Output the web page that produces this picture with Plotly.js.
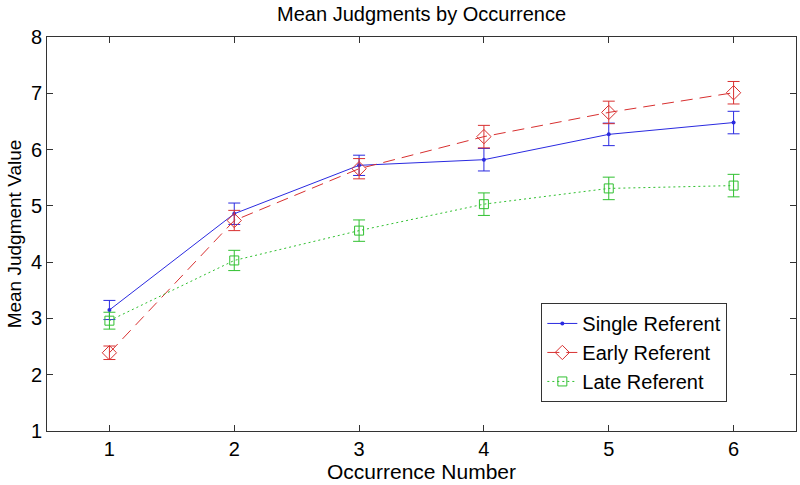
<!DOCTYPE html>
<html>
<head>
<meta charset="utf-8">
<script src="https://cdn.plot.ly/plotly-3.0.1.min.js"></script>
<style>html,body{margin:0;padding:0;background:#fff;}#chart{width:800px;height:485px;}</style>
</head>
<body>
<div id="chart"></div>
<script>
const occurrences = [1, 2, 3, 4, 5, 6];
const singleMeans = [3.15, 4.86, 5.72, 5.82, 6.27, 6.48];
const singleErr   = [0.17, 0.19, 0.18, 0.20, 0.20, 0.20];
const earlyMeans  = [2.39, 4.74, 5.66, 6.23, 6.66, 7.01];
const earlyErr    = [0.12, 0.18, 0.18, 0.20, 0.20, 0.20];
const lateMeans   = [2.96, 4.03, 4.56, 5.03, 5.31, 5.36];
const lateErr     = [0.15, 0.18, 0.19, 0.20, 0.20, 0.20];
const seriesNames = ['Single Referent', 'Early Referent', 'Late Referent'];
const yTicks = [1, 2, 3, 4, 5, 6, 7, 8];

const blue = '#2a2ae0', red = '#d83030', green = '#30c030';
const font = 'Liberation Sans, Arial, Helvetica, sans-serif';

const traces = [
  {x: occurrences, y: singleMeans, name: seriesNames[0], mode: 'lines+markers', type: 'scatter',
   line: {color: blue, width: 1}, marker: {symbol: 'circle', size: 4, color: blue},
   error_y: {type: 'data', array: singleErr, visible: true, color: blue, thickness: 1, width: 6}},
  {x: occurrences, y: earlyMeans, name: seriesNames[1], mode: 'lines+markers', type: 'scatter',
   line: {color: red, width: 1, dash: '12px,7px'}, marker: {symbol: 'diamond-open', size: 11, color: red, line: {width: 1}},
   error_y: {type: 'data', array: earlyErr, visible: true, color: red, thickness: 1, width: 6}},
  {x: occurrences, y: lateMeans, name: seriesNames[2], mode: 'lines+markers', type: 'scatter',
   line: {color: green, width: 1, dash: '2px,3px'}, marker: {symbol: 'square-open', size: 9, color: green, line: {width: 1}},
   error_y: {type: 'data', array: lateErr, visible: true, color: green, thickness: 1, width: 6}}
];

const layout = {
  width: 800, height: 485,
  margin: {l: 47, r: 4, t: 37, b: 54},
  paper_bgcolor: '#fff', plot_bgcolor: '#fff',
  font: {family: font, color: '#000', size: 20},
  title: {text: 'Mean Judgments by Occurrence', font: {family: font, size: 20, color: '#000'}, x: 0.527, xanchor: 'center', y: 0.972, yanchor: 'middle'},
  xaxis: {
    range: [0.5, 6.5], tickvals: occurrences, ticktext: occurrences.map(String),
    ticks: 'inside', ticklen: 6, tickcolor: '#333', mirror: 'ticks', showline: true, linecolor: '#333', linewidth: 1,
    showgrid: false, zeroline: false, tickfont: {size: 20, family: font},
    title: {text: 'Occurrence Number', font: {size: 21, family: font}, standoff: 2}
  },
  yaxis: {
    range: [1, 8], tickvals: yTicks, ticktext: yTicks.map(String),
    ticks: 'inside', ticklen: 6, tickcolor: '#333', mirror: 'ticks', showline: true, linecolor: '#333', linewidth: 1,
    showgrid: false, zeroline: false, tickfont: {size: 20, family: font},
    title: {text: 'Mean Judgment Value', font: {size: 19, family: font}, standoff: 4}
  },
  showlegend: true,
  legend: {x: 0.66, y: 0.325, xanchor: 'left', yanchor: 'top', bgcolor: '#fff', bordercolor: '#333', borderwidth: 1,
           font: {size: 20, family: font}, tracegroupgap: 0, itemsizing: 'trace'}
};

Plotly.newPlot('chart', traces, layout, {displayModeBar: false, staticPlot: true});
</script>
</body>
</html>
